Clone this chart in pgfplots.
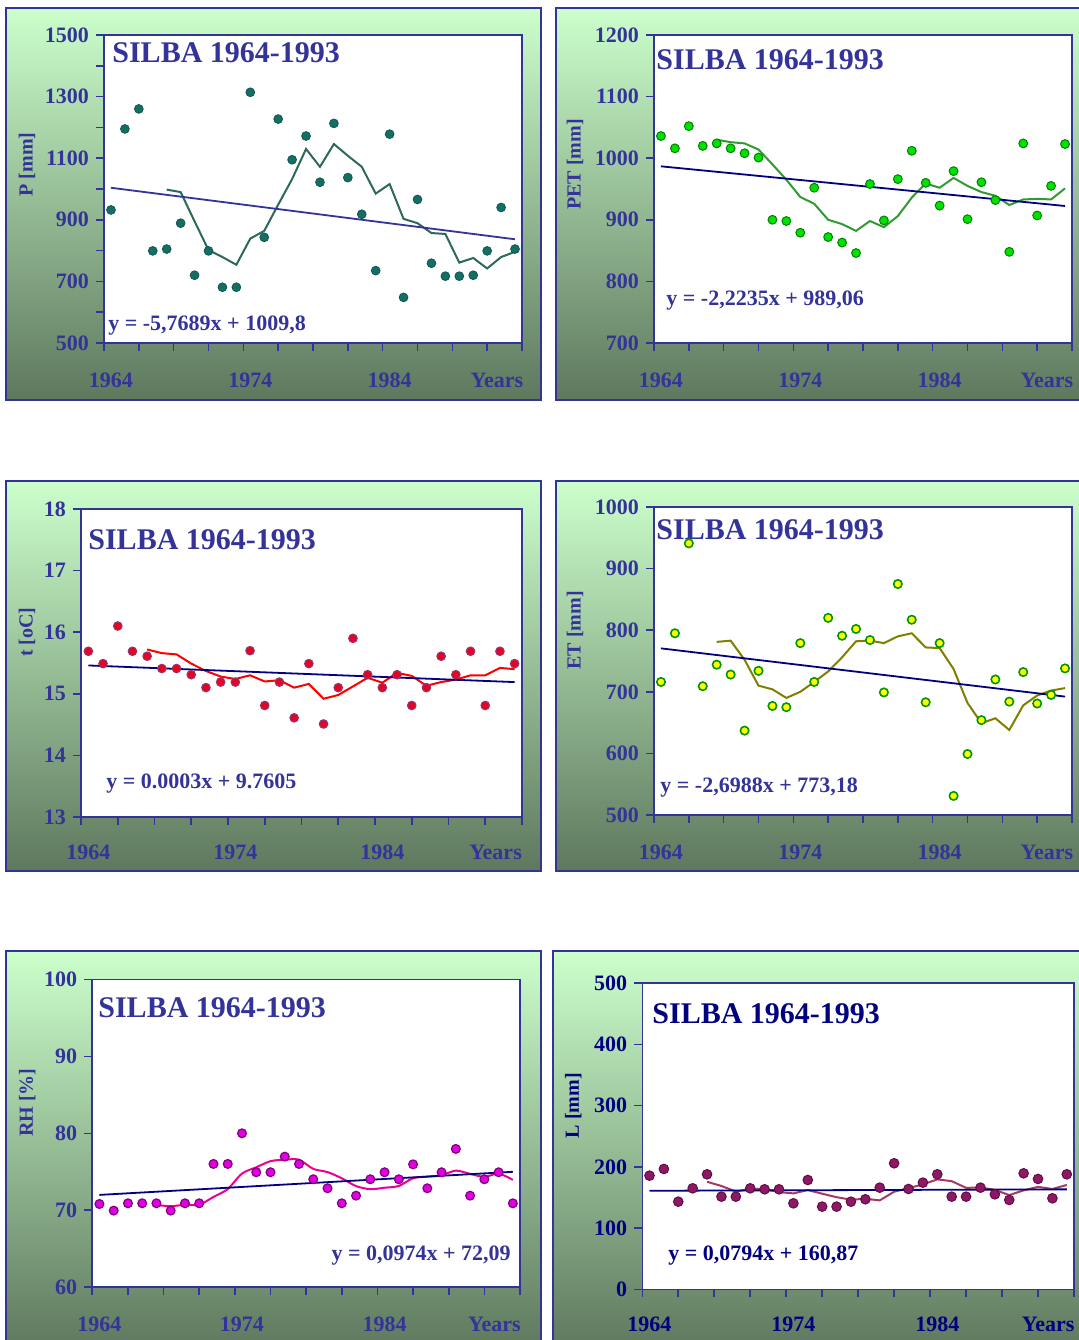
\documentclass[border=0pt]{standalone}
\usepackage{fontspec}
\setmainfont{Liberation Serif}
\usepackage{pgfplots}
\pgfplotsset{compat=1.18}
\usepackage{pgfplotstable}

\definecolor{ab}{RGB}{51,51,153}
\definecolor{nv}{RGB}{0,0,128}
\definecolor{gtop}{RGB}{204,255,204}
\definecolor{gbot}{RGB}{94,120,94}
\definecolor{tealF}{RGB}{20,110,100}
\definecolor{tealL}{RGB}{45,105,90}
\definecolor{grF}{RGB}{0,225,0}
\definecolor{grD}{RGB}{0,130,0}
\definecolor{grL}{RGB}{51,153,51}
\definecolor{rdF}{RGB}{235,0,30}
\definecolor{rdD}{RGB}{150,50,110}
\definecolor{olL}{RGB}{128,128,0}
\definecolor{ylF}{RGB}{255,255,0}
\definecolor{ylD}{RGB}{0,150,0}
\definecolor{mgF}{RGB}{225,0,225}
\definecolor{mgD}{RGB}{128,0,128}
\definecolor{puF}{RGB}{140,25,100}
\definecolor{puD}{RGB}{100,10,70}
\definecolor{puL}{RGB}{165,60,95}

\newcommand{\tf}{\fontsize{11}{13}\selectfont\bfseries}
\newcommand{\ttl}{\fontsize{15}{18}\selectfont\bfseries}
\newcommand{\lf}{\fontsize{10}{12}\selectfont\bfseries}

\newcommand{\xlabs}[3]{%
  \node[font=\tf, text=#3, anchor=base, inner sep=0pt] at ([yshift=#2]axis cs:1964,#1) {1964};
  \node[font=\tf, text=#3, anchor=base, inner sep=0pt] at ([yshift=#2]axis cs:1974,#1) {1974};
  \node[font=\tf, text=#3, anchor=base, inner sep=0pt] at ([yshift=#2]axis cs:1984,#1) {1984};
  \node[font=\tf, text=#3, anchor=base, inner sep=0pt] at ([yshift=#2]axis cs:1991.7,#1) {Years};
}

\pgfplotsset{
  panel/.style={
    scale only axis, clip=false,
    xmin=1963.5, xmax=1993.5,
    xtick={1963.5,1966,1968.5,1971,1973.5,1976,1978.5,1981,1983.5,1986,1988.5,1991,1993.5},
    xticklabel=\empty,
    xtick pos=bottom, ytick pos=left, tick align=outside,
    major tick length=4pt, minor tick length=4pt,
    axis line style={draw=ab, line width=0.8pt},
    tick style={draw=ab, line width=0.8pt},
    axis background/.style={fill=white},
    yticklabel style={font=\tf, text=ab},
    /pgf/number format/assume math mode=true,
    /pgf/number format/1000 sep={},
  },
}

% year, value, 5-year moving average
\pgfplotstableread{
yr v ma
1964 932 nan
1965 1195 nan
1966 1260 nan
1967 799 nan
1968 805 998
1969 889 990
1970 720 895
1971 799 802
1972 681 779
1973 681 754
1974 1314 839
1975 843 864
1976 1227 949
1977 1095 1032
1978 1172 1130
1979 1022 1072
1980 1213 1146
1981 1037 1108
1982 918 1072
1983 735 985
1984 1178 1016
1985 648 903
1986 966 889
1987 759 857
1988 717 854
1989 717 761
1990 720 776
1991 799 742
1992 940 779
1993 805 796
}\dP

\pgfplotstableread{
yr v ma
1964 1036 nan
1965 1016 nan
1966 1052 nan
1967 1020 nan
1968 1024 1030
1969 1016 1026
1970 1008 1024
1971 1001 1014
1972 900 990
1973 898 965
1974 879 937
1975 952 926
1976 872 900
1977 863 893
1978 846 882
1979 958 898
1980 899 888
1981 966 906
1982 1012 936
1983 960 959
1984 923 952
1985 979 968
1986 901 955
1987 961 945
1988 932 939
1989 848 924
1990 1024 933
1991 907 934
1992 955 933
1993 1023 951
}\dPET

\pgfplotstableread{
yr v ma
1964 15.69 nan
1965 15.49 nan
1966 16.10 nan
1967 15.69 nan
1968 15.61 15.72
1969 15.41 15.66
1970 15.41 15.64
1971 15.31 15.49
1972 15.10 15.37
1973 15.19 15.28
1974 15.19 15.24
1975 15.70 15.30
1976 14.81 15.20
1977 15.19 15.22
1978 14.61 15.10
1979 15.49 15.16
1980 14.51 14.92
1981 15.10 14.98
1982 15.90 15.12
1983 15.31 15.26
1984 15.10 15.18
1985 15.31 15.34
1986 14.81 15.29
1987 15.10 15.13
1988 15.61 15.19
1989 15.31 15.23
1990 15.69 15.30
1991 14.81 15.30
1992 15.69 15.42
1993 15.49 15.40
}\dT

\pgfplotstableread{
yr v ma
1964 716 nan
1965 795 nan
1966 941 nan
1967 709 nan
1968 744 781
1969 728 783
1970 637 752
1971 734 710
1972 677 704
1973 675 690
1974 779 700
1975 716 716
1976 820 733
1977 791 756
1978 802 782
1979 784 783
1980 699 779
1981 875 790
1982 817 795
1983 683 772
1984 779 771
1985 531 737
1986 599 682
1987 654 649
1988 720 657
1989 684 638
1990 732 678
1991 681 694
1992 695 702
1993 738 706
}\dET

\pgfplotstableread{
yr v ma
1964 70.82 nan
1965 69.96 nan
1966 70.91 nan
1967 70.91 nan
1968 70.91 70.70
1969 69.96 70.53
1970 70.91 70.72
1971 70.91 70.72
1972 76.02 71.74
1973 76.02 72.76
1974 80.00 74.77
1975 74.94 75.58
1976 74.94 76.38
1977 76.97 76.57
1978 76.02 76.57
1979 74.03 75.38
1980 72.86 74.96
1981 70.91 74.16
1982 71.90 73.14
1983 74.03 72.75
1984 74.94 72.93
1985 74.03 73.16
1986 75.97 74.17
1987 72.86 74.37
1988 74.94 74.55
1989 77.97 75.15
1990 71.90 74.73
1991 74.03 74.34
1992 74.94 74.76
1993 70.91 73.95
}\dRH

\pgfplotstableread{
yr v ma
1964 185.7 nan
1965 196.6 nan
1966 143.2 nan
1967 165.0 nan
1968 187.9 175.7
1969 151.4 168.8
1970 151.4 159.8
1971 165.0 164.1
1972 163.4 163.8
1973 163.4 158.9
1974 140.5 156.7
1975 178.6 162.2
1976 135.1 156.2
1977 135.1 150.5
1978 143.2 146.5
1979 147.1 147.8
1980 166.1 145.3
1981 205.9 159.5
1982 163.9 165.2
1983 174.3 171.5
1984 187.9 179.6
1985 151.4 176.7
1986 151.4 165.8
1987 166.1 166.2
1988 155.2 162.4
1989 146.0 154.0
1990 189.5 161.6
1991 180.3 167.4
1992 148.7 163.9
1993 187.9 170.5
}\dL

\begin{document}
\begin{tikzpicture}
\path[use as bounding box] (0pt,0pt) rectangle (539.5pt,670pt);
\clip (0pt,0pt) rectangle (539.5pt,670pt);
\fill[white] (0pt,0pt) rectangle (539.5pt,670pt);

\begin{scope}[x=1pt,y=1pt]
  \shade[top color=gtop, bottom color=gbot] (3,470) rectangle (270.5,666);
  \draw[ab, line width=1pt] (3,470) rectangle (270.5,666);
  \shade[top color=gtop, bottom color=gbot] (278,470) rectangle (545,666);
  \draw[ab, line width=1pt] (278,470) rectangle (545,666);
  \shade[top color=gtop, bottom color=gbot] (3,234.5) rectangle (270.5,429.5);
  \draw[ab, line width=1pt] (3,234.5) rectangle (270.5,429.5);
  \shade[top color=gtop, bottom color=gbot] (278,234.5) rectangle (545,429.5);
  \draw[ab, line width=1pt] (278,234.5) rectangle (545,429.5);
  \shade[top color=gtop, bottom color=gbot] (3,-5) rectangle (270.5,194.5);
  \draw[ab, line width=1pt] (3,-5) rectangle (270.5,194.5);
  \shade[top color=gtop, bottom color=gbot] (276.5,-5) rectangle (545,194.5);
  \draw[ab, line width=1pt] (276.5,-5) rectangle (545,194.5);
\end{scope}

% ---------- P ----------
\begin{axis}[panel, at={(52pt,498.5pt)}, anchor=south west, width=209pt, height=154pt,
  ymin=500, ymax=1500, ytick={500,700,...,1500}, minor ytick={600,800,...,1400}]
  \addplot[only marks, mark=*, mark size=2.2pt, mark options={fill=tealF, draw=tealF!80!black, line width=0.4pt}] table[x=yr,y=v]{\dP};
  \addplot[no marks, tealL, line width=1pt] table[x=yr,y=ma]{\dP};
  \addplot[no marks, ab, line width=0.9pt] coordinates {(1964,1004.0) (1993,836.7)};
  \node[font=\ttl, text=ab, anchor=west, inner sep=0pt] at ([xshift=4pt,yshift=-9pt]rel axis cs:0,1) {SILBA 1964-1993};
  \node[font=\tf, text=ab, anchor=base west, inner sep=0pt] at ([xshift=2pt,yshift=6pt]rel axis cs:0,0) {y = -5,7689x + 1009,8};
  \node[font=\lf, text=ab, rotate=90, inner sep=0pt] at ([xshift=-38.5pt]rel axis cs:0,0.58) {P [mm]};
  \xlabs{500}{-22.25pt}{ab}
\end{axis}

% ---------- PET ----------
\begin{axis}[panel, at={(327pt,498.5pt)}, anchor=south west, width=209pt, height=154pt,
  ymin=700, ymax=1200, ytick={700,800,...,1200}]
  \addplot[only marks, mark=*, mark size=2.2pt, mark options={fill=grF, draw=grD, line width=0.5pt}] table[x=yr,y=v]{\dPET};
  \addplot[no marks, grL, line width=1pt] table[x=yr,y=ma]{\dPET};
  \addplot[no marks, nv, line width=0.9pt] coordinates {(1964,986.8) (1993,922.4)};
  \node[font=\ttl, text=ab, anchor=west, inner sep=0pt] at ([xshift=1pt,yshift=-12.5pt]rel axis cs:0,1) {SILBA 1964-1993};
  \node[font=\tf, text=ab, anchor=base west, inner sep=0pt] at ([xshift=6pt,yshift=18.75pt]rel axis cs:0,0) {y = -2,2235x + 989,06};
  \node[font=\lf, text=ab, rotate=90, inner sep=0pt] at ([xshift=-39.5pt]rel axis cs:0,0.58) {PET [mm]};
  \xlabs{700}{-22.25pt}{ab}
\end{axis}

% ---------- t ----------
\begin{axis}[panel, at={(40.5pt,261.5pt)}, anchor=south west, width=220.5pt, height=154pt,
  ymin=13, ymax=18, ytick={13,14,...,18}]
  \addplot[only marks, mark=*, mark size=2.1pt, mark options={fill=rdF, draw=rdD, line width=0.6pt}] table[x=yr,y=v]{\dT};
  \addplot[no marks, red, line width=1pt] table[x=yr,y=ma]{\dT};
  \addplot[no marks, nv, line width=0.9pt] coordinates {(1964,15.46) (1993,15.19)};
  \node[font=\ttl, text=ab, anchor=west, inner sep=0pt] at ([xshift=3.5pt,yshift=-15.5pt]rel axis cs:0,1) {SILBA 1964-1993};
  \node[font=\tf, text=ab, anchor=base west, inner sep=0pt] at ([xshift=12.5pt,yshift=14.25pt]rel axis cs:0,0) {y = 0.0003x + 9.7605};
  \node[font=\lf, text=ab, rotate=90, inner sep=0pt] at ([xshift=-27pt]rel axis cs:0,0.6) {t [oC]};
  \xlabs{13}{-21.25pt}{ab}
\end{axis}

% ---------- ET ----------
\begin{axis}[panel, at={(327pt,262.5pt)}, anchor=south west, width=209pt, height=154pt,
  ymin=500, ymax=1000, ytick={500,600,...,1000}]
  \addplot[only marks, mark=*, mark size=2.1pt, mark options={fill=ylF, draw=ylD, line width=0.8pt}] table[x=yr,y=v]{\dET};
  \addplot[no marks, olL, line width=1pt] table[x=yr,y=ma]{\dET};
  \addplot[no marks, nv, line width=0.9pt] coordinates {(1964,770.5) (1993,692.2)};
  \node[font=\ttl, text=ab, anchor=west, inner sep=0pt] at ([xshift=1pt,yshift=-11.5pt]rel axis cs:0,1) {SILBA 1964-1993};
  \node[font=\tf, text=ab, anchor=base west, inner sep=0pt] at ([xshift=3pt,yshift=11.25pt]rel axis cs:0,0) {y = -2,6988x + 773,18};
  \node[font=\lf, text=ab, rotate=90, inner sep=0pt] at ([xshift=-39.5pt]rel axis cs:0,0.6) {ET [mm]};
  \xlabs{500}{-22.25pt}{ab}
\end{axis}

% ---------- RH ----------
\begin{axis}[panel, at={(46.15pt,26.35pt)}, anchor=south west, width=213.85pt, height=154pt,
  ymin=60, ymax=100, ytick={60,70,...,100}]
  \addplot[only marks, mark=*, mark size=2.2pt, mark options={fill=mgF, draw=mgD, line width=0.6pt}] table[x=yr,y=v]{\dRH};
  \addplot[no marks, magenta, line width=1pt, smooth, tension=0.5] table[x=yr,y=ma]{\dRH};
  \addplot[no marks, nv, line width=0.9pt] coordinates {(1964,72.0) (1993,75.0)};
  \node[font=\ttl, text=ab, anchor=west, inner sep=0pt] at ([xshift=2.85pt,yshift=-14.35pt]rel axis cs:0,1) {SILBA 1964-1993};
  \node[font=\tf, text=ab, anchor=base east, inner sep=0pt] at ([xshift=-4.5pt,yshift=13.4pt]rel axis cs:1,0) {y = 0,0974x + 72,09};
  \node[font=\lf, text=ab, rotate=90, inner sep=0pt] at ([xshift=-32.5pt]rel axis cs:0,0.6) {RH [\%]};
  \xlabs{60}{-22.1pt}{ab}
\end{axis}

% ---------- L ----------
\begin{axis}[panel, at={(321.15pt,25.35pt)}, anchor=south west, width=215.85pt, height=153pt,
  ymin=0, ymax=500, ytick={0,100,...,500}, yticklabel style={text=nv}]
  \addplot[only marks, mark=*, mark size=2.4pt, mark options={fill=puF, draw=puD, line width=0.5pt}] table[x=yr,y=v]{\dL};
  \addplot[no marks, puL, line width=1pt] table[x=yr,y=ma]{\dL};
  \addplot[no marks, nv, line width=0.9pt] coordinates {(1964,161.0) (1993,163.3)};
  \node[font=\ttl, text=nv, anchor=west, inner sep=0pt] at ([xshift=4.85pt,yshift=-15.35pt]rel axis cs:0,1) {SILBA 1964-1993};
  \node[font=\tf, text=nv, anchor=base west, inner sep=0pt] at ([xshift=12.85pt,yshift=14.4pt]rel axis cs:0,0) {y = 0,0794x + 160,87};
  \node[font=\lf, text=nv, rotate=90, inner sep=0pt] at ([xshift=-34.5pt]rel axis cs:0,0.6) {L [mm]};
  \xlabs{0}{-21.1pt}{nv}
\end{axis}
\end{tikzpicture}
\end{document}
